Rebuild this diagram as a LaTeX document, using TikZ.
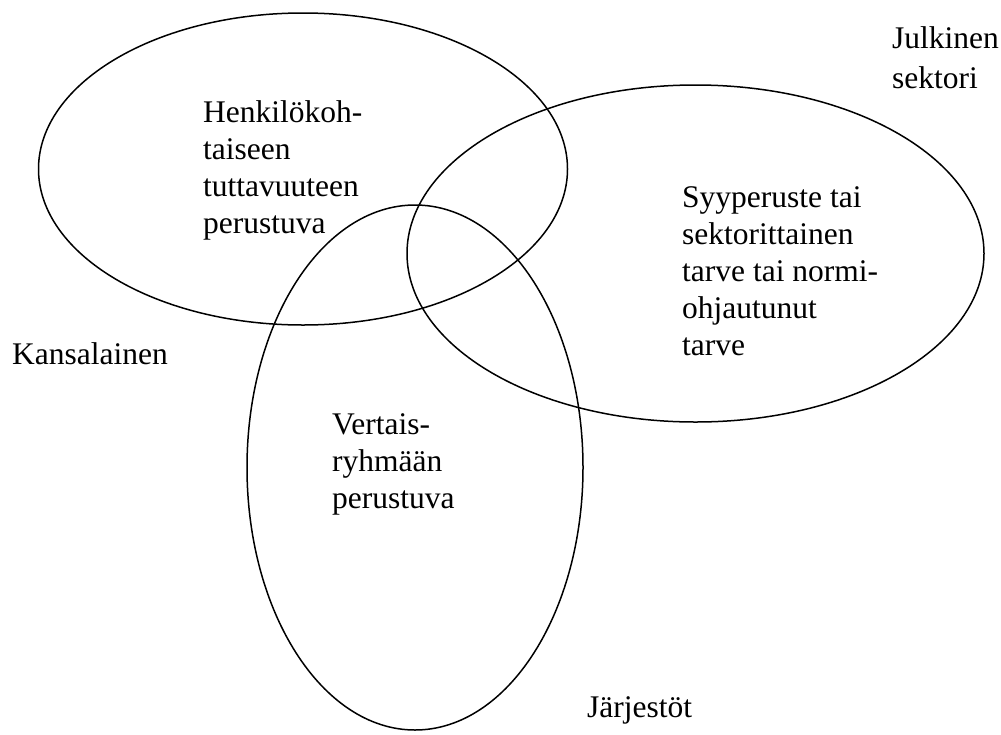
\documentclass[tikz,border=0pt]{standalone}
\usepackage{fontspec}
\setmainfont{Liberation Serif}
\usepackage{tikz}
\usetikzlibrary{positioning}

\begin{document}
\begin{tikzpicture}[x=1pt, y=-1pt,
    teksti/.style={align=left, anchor=base west, inner sep=0pt,
        font=\fontsize{31.5}{37}\selectfont}]
        \useasboundingbox (0,0) rectangle (1001,734);
        \draw[line width=1.5pt] (303,169) ellipse (264.5pt and 156pt);
        \draw[line width=1.5pt] (695.5,253.5) ellipse (288.5pt and 168.5pt);
        \draw[line width=1.5pt] (415,467.5) ellipse (168pt and 262.5pt);
        % base = viimeisen rivin perusviiva
        \node[teksti] (henk) at (203,233) {Henkilökoh-\\taiseen\\tuttavuuteen\\perustuva};
        \node[teksti] (syy) at (682,355) {Syyperuste tai\\sektorittainen\\tarve tai normi-\\ohjautunut\\tarve};
        \node[teksti] (vert) at (332,508) {Vertais-\\ryhmään\\perustuva};
        \node[teksti, font=\fontsize{31.5}{40}\selectfont] (julk) at (892,88) {Julkinen\\sektori};
        \node[teksti] (kans) at (12,364) {Kansalainen};
        \node[teksti] (jarj) at (587,717) {Järjestöt};
    \end{tikzpicture}
\end{document}
